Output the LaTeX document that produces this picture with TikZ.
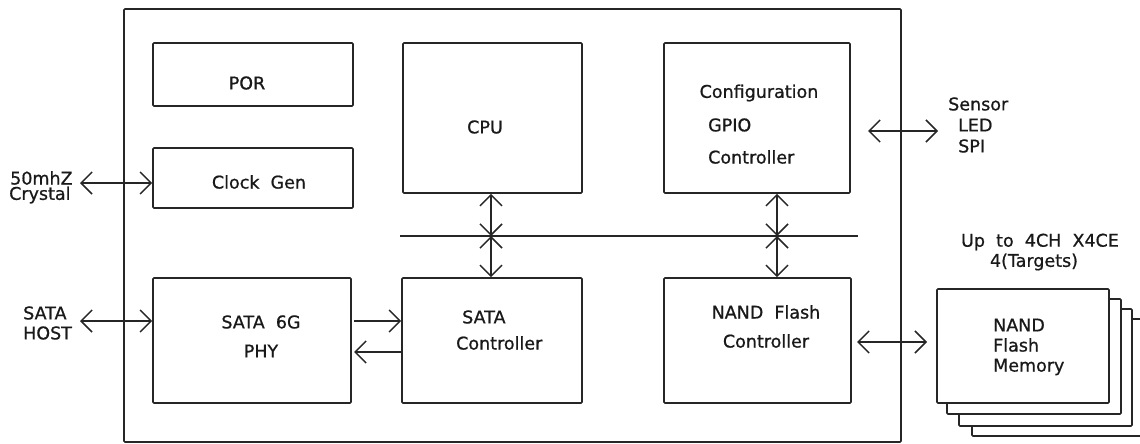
\documentclass[tikz,border=0pt]{standalone}
\usepackage{fontspec}
\setmainfont{DejaVu Sans}[FakeBold=0.8]
\usetikzlibrary{arrows.meta}
\begin{document}
\begin{tikzpicture}[x=1pt,y=-1pt,
  box/.style={draw=black!85, line width=1.6pt, rounded corners=1pt, inner sep=0pt, fill=white},
  lbl/.style={inner sep=0pt, font=\fontsize{17.5}{20}\selectfont, text=black!90},
  conn/.style={draw=black!85, line width=1.5pt, {Straight Barb[length=11pt,width=22pt]}-{Straight Barb[length=11pt,width=22pt]}},
  oneway/.style={draw=black!85, line width=1.5pt, -{Straight Barb[length=11pt,width=22pt]}}
]
\useasboundingbox (0,0) rectangle (1140,444);
% outer chip
\node[box, minimum width=777pt, minimum height=433pt] (chip) at (512.5,225.5) {};
% blocks
\node[box, minimum width=200pt, minimum height=63pt] (por) at (253,74.5) {};
\node[box, minimum width=200pt, minimum height=60pt] (clk) at (253,178) {};
\node[box, minimum width=179pt, minimum height=150pt] (cpu) at (492.5,118) {};
\node[box, minimum width=186pt, minimum height=150pt] (cfg) at (757,118) {};
\node[box, minimum width=198pt, minimum height=125pt] (phy) at (252,340.5) {};
\node[box, minimum width=180pt, minimum height=125pt] (sata) at (492,340.5) {};
\node[box, minimum width=187pt, minimum height=125pt] (nandc) at (757.5,340.5) {};
% memory stack
\node[box, minimum width=173pt, minimum height=117pt] (mem4) at (1058.5,377.5) {};
\node[box, minimum width=173pt, minimum height=117pt] (mem3) at (1045.5,367.5) {};
\node[box, minimum width=174pt, minimum height=115pt] (mem2) at (1034,356.5) {};
\node[box, minimum width=172pt, minimum height=114pt] (mem1) at (1023,346) {};
% texts
\node[lbl] (tpor) at (247,83) {POR};
\node[lbl] (tclk) at (259,182) {Clock\ \ Gen};
\node[lbl] (tcpu) at (485,127) {CPU};
\node[lbl] (tcfg1) at (759,93) {Configuration};
\node[lbl, anchor=west] (tcfg2) at (708,125) {GPIO};
\node[lbl, anchor=west] (tcfg3) at (708,157) {Controller};
\node[lbl] (tphy1) at (261,322) {SATA\ \ 6G};
\node[lbl] (tphy2) at (261,351) {PHY};
\node[lbl, anchor=west] (tsata1) at (462,317) {SATA};
\node[lbl, anchor=west] (tsata2) at (456,343) {Controller};
\node[lbl] (tnand1) at (766,312) {NAND\ \ Flash};
\node[lbl] (tnand2) at (766,341) {Controller};
\node[lbl, anchor=west] (tx1) at (10,178) {50mhZ};
\node[lbl, anchor=west] (tx2) at (9,195) {Crystal};
\node[lbl, anchor=west] (th1) at (23,313) {SATA};
\node[lbl, anchor=west] (th2) at (23,333) {HOST};
\node[lbl, anchor=west] (ts1) at (948,104) {Sensor};
\node[lbl, anchor=west] (ts2) at (958,125) {LED};
\node[lbl, anchor=west] (ts3) at (958,146) {SPI};
\node[lbl] (tu1) at (1040,242) {Up\ \ to\ \ 4CH\ \ X4CE};
\node[lbl] (tu2) at (1034,262) {4(Targets)};
\node[lbl, anchor=west] (tm1) at (993,325) {NAND};
\node[lbl, anchor=west] (tm2) at (993,345) {Flash};
\node[lbl, anchor=west] (tm3) at (993,367) {Memory};
% bus
\coordinate (busL) at (400,236);
\coordinate (busR) at (858,236);
\draw[draw=black!85, line width=1.5pt] (busL) -- (busR);
\coordinate (b1) at (491,236);
\coordinate (b2) at (777,236);
\draw[conn] (b1 |- cpu.south) -- (b1);
\draw[conn] (b1) -- (b1 |- sata.north);
\draw[conn] (b2 |- cfg.south) -- (b2);
\draw[conn] (b2) -- (b2 |- nandc.north);
% external arrows
\coordinate (xtal) at (80,183);
\draw[conn] (xtal) -- (xtal -| clk.west);
\coordinate (host) at (80,321);
\draw[conn] (host) -- (host -| phy.west);
\coordinate (sensA) at (868,131);
\coordinate (sensB) at (938,131);
\draw[conn] (sensA) -- (sensB);
\coordinate (nmA) at (857,342);
\coordinate (nmB) at (927,342);
\draw[conn] (nmA) -- (nmB);
% PHY <-> SATA controller
\coordinate (p1) at (354,321);
\draw[oneway] (p1) -- (p1 -| sata.west);
\coordinate (p2) at (354,352);
\draw[oneway] (p2 -| sata.west) -- (p2);
\end{tikzpicture}
\end{document}
